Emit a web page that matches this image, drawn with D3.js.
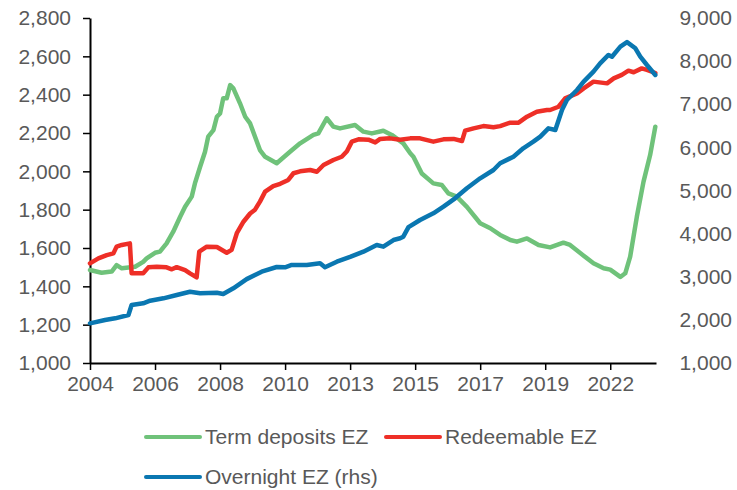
<!DOCTYPE html>
<html>
<head>
<meta charset="utf-8">
<script src="https://cdn.jsdelivr.net/npm/d3@7"></script>
<style>
body { margin: 0; background: #fff; }
text { font-family: "Liberation Sans", Arial, sans-serif; fill: #595959; }
</style>
</head>
<body>
<div id="svgWrapper"></div>
<script>
"use strict"
// data: [decimal year, value]
var termDeposits = [
    [2004.00,1485],[2004.40,1471],[2004.75,1477],[2004.92,1511],[2005.10,1494],[2005.56,1502],
    [2005.84,1528],[2005.96,1546],[2006.25,1575],[2006.42,1581],[2006.65,1624],[2006.88,1685],
    [2007.12,1763],[2007.29,1815],[2007.52,1868],[2007.63,1937],[2007.81,2024],[2007.98,2102],
    [2008.09,2181],[2008.27,2215],[2008.39,2285],[2008.50,2302],[2008.61,2381],[2008.73,2381],
    [2008.85,2450],[2008.96,2433],[2009.19,2355],[2009.37,2285],[2009.54,2250],[2009.88,2111],
    [2010.06,2076],[2010.46,2042],[2010.92,2102],[2011.27,2146],[2011.73,2190],[2011.90,2198],
    [2012.19,2277],[2012.42,2233],[2012.65,2224],[2013.17,2242],[2013.46,2207],[2013.75,2198],
    [2014.15,2212],[2014.44,2190],[2014.84,2146],[2015.08,2094],[2015.19,2076],[2015.48,1989],
    [2015.88,1937],[2016.17,1929],[2016.40,1885],[2016.69,1868],[2017.04,1815],[2017.50,1729],
    [2017.85,1703],[2018.19,1668],[2018.54,1642],[2018.77,1633],[2019.12,1650],[2019.52,1616],
    [2019.92,1603],[2020.38,1628],[2020.61,1616],[2021.08,1560],[2021.42,1520],[2021.77,1494],
    [2022.00,1487],[2022.35,1449],[2022.52,1468],[2022.69,1555],[2022.92,1763],[2023.15,1945],
    [2023.38,2085],[2023.56,2233]
];
var redeemable = [
    [2004.00,1520],[2004.29,1546],[2004.58,1563],[2004.81,1572],[2004.92,1607],[2005.10,1616],
    [2005.38,1624],[2005.44,1468],[2005.84,1468],[2006.02,1499],[2006.31,1502],[2006.65,1499],
    [2006.83,1489],[2007.00,1500],[2007.29,1485],[2007.46,1468],[2007.69,1447],[2007.78,1581],
    [2008.04,1607],[2008.39,1605],[2008.73,1575],[2008.90,1590],[2009.08,1677],[2009.31,1737],
    [2009.54,1780],[2009.71,1800],[2009.88,1842],[2010.06,1894],[2010.34,1923],[2010.58,1935],
    [2010.86,1955],[2011.04,1990],[2011.27,2000],[2011.62,2007],[2011.85,1998],[2012.08,2033],
    [2012.42,2059],[2012.71,2076],[2012.89,2105],[2013.06,2155],[2013.29,2167],[2013.63,2165],
    [2013.87,2151],[2014.04,2169],[2014.38,2172],[2014.73,2165],[2015.08,2172],[2015.42,2172],
    [2015.88,2155],[2016.23,2167],[2016.58,2169],[2016.87,2158],[2016.98,2212],[2017.27,2224],
    [2017.61,2236],[2017.96,2230],[2018.19,2236],[2018.54,2254],[2018.83,2254],[2019.12,2285],
    [2019.46,2311],[2019.81,2320],[2019.92,2320],[2020.21,2337],[2020.44,2381],[2020.85,2407],
    [2021.08,2433],[2021.42,2468],[2021.89,2459],[2022.12,2485],[2022.40,2503],[2022.63,2525],
    [2022.81,2517],[2023.09,2537],[2023.27,2529],[2023.56,2513]
];
var overnight = [
    [2004.00,1920],[2004.52,1997],[2004.87,2036],[2005.33,2113],[2005.44,2345],[2005.84,2384],
    [2006.08,2445],[2006.54,2500],[2007.00,2577],[2007.46,2653],[2007.81,2616],[2008.39,2630],
    [2008.61,2600],[2008.96,2732],[2009.42,2945],[2009.94,3117],[2010.46,3226],[2010.75,3219],
    [2010.98,3273],[2011.50,3273],[2011.96,3312],[2012.13,3219],[2012.54,3349],[2013.00,3460],
    [2013.46,3581],[2013.92,3736],[2014.15,3697],[2014.50,3852],[2014.73,3892],[2014.84,3929],
    [2015.02,4150],[2015.42,4316],[2015.88,4471],[2016.23,4625],[2016.63,4819],[2017.04,5051],
    [2017.50,5283],[2017.96,5476],[2018.19,5631],[2018.65,5784],[2018.99,5979],[2019.34,6132],
    [2019.58,6248],[2019.86,6442],[2020.10,6403],[2020.33,6867],[2020.50,7099],[2020.85,7331],
    [2021.08,7523],[2021.42,7755],[2021.65,7950],[2021.94,8143],[2022.06,8103],[2022.35,8335],
    [2022.58,8440],[2022.87,8298],[2023.04,8103],[2023.27,7910],[2023.56,7679]
];
var leftTicks = [1000, 1200, 1400, 1600, 1800, 2000, 2200, 2400, 2600, 2800];
var rightTicks = [1000, 2000, 3000, 4000, 5000, 6000, 7000, 8000, 9000];
// category axis: a tick every 27 months from Jan 2004
var xTicks = [2004, 2006.25, 2008.5, 2010.75, 2013, 2015.25, 2017.5, 2019.75, 2022];
var xEnd = 2004 + 235 / 12;

var seriesList = [
    {name: "Term deposits EZ", data: termDeposits, color: "#6fc27a", axis: "left"},
    {name: "Redeemable EZ", data: redeemable, color: "#ee2f27", axis: "left"},
    {name: "Overnight EZ (rhs)", data: overnight, color: "#0a77b1", axis: "right"}
];

function drawChart() {
    var fullWidth = 737;
    var fullHeight = 490;
    var left = 90, right = 656, top = 18, bottom = 363;

    var svg = d3.select("#svgWrapper").append("svg")
        .attr("width", fullWidth).attr("height", fullHeight);

    var xScale = d3.scaleLinear().domain([2004, xEnd]).range([left, right]);
    var yLeft = d3.scaleLinear().domain([1000, 2800]).range([bottom, top]);
    var yRight = d3.scaleLinear().domain([1000, 9000]).range([bottom, top]);

    var fmt = d3.format(",");

    var yAxisL = d3.axisLeft(yLeft).tickValues(leftTicks).tickFormat(fmt).tickSizeInner(7).tickSizeOuter(0).tickPadding(12);
    var gL = svg.append("g").attr("transform", "translate(" + left + ",0)").call(yAxisL);

    var yAxisR = d3.axisRight(yRight).tickValues(rightTicks).tickFormat(fmt).tickSize(0).tickPadding(0);
    var gR = svg.append("g").attr("transform", "translate(" + (fullWidth - 5) + ",0)").call(yAxisR);
    gR.select(".domain").remove();
    gR.selectAll("text").attr("text-anchor", "end");

    var xAxis = d3.axisBottom(xScale).tickValues(xTicks)
        .tickFormat(function(d) { return Math.floor(d + 0.001); })
        .tickSizeInner(7).tickSizeOuter(0).tickPadding(6);
    var gX = svg.append("g").attr("transform", "translate(0," + bottom + ")").call(xAxis);

    [gL, gR, gX].forEach(function(g) {
        g.selectAll("text").style("font-size", "21px").attr("fill", "#595959")
            .style("font-family", '"Liberation Sans", Arial, sans-serif');
        g.selectAll("line").attr("stroke", "#000").attr("stroke-width", 1.5);
        g.select(".domain").attr("stroke", "#000").attr("stroke-width", 2);
    });

    var data = svg.append("g");
    seriesList.forEach(function(s) {
        var yScale = s.axis == "left" ? yLeft : yRight;
        var line = d3.line()
            .x(function(d) { return xScale(d[0]); })
            .y(function(d) { return yScale(d[1]); });
        data.append("path")
            .attr("fill", "none")
            .attr("stroke", s.color)
            .attr("stroke-width", 4.5)
            .attr("stroke-linejoin", "round")
            .attr("stroke-linecap", "round")
            .attr("d", line(s.data));
    });

    // legend
    var legendPos = [[146, 437], [386, 437], [146, 477]];
    var legend = svg.append("g");
    seriesList.forEach(function(s, i) {
        var p = legendPos[i];
        legend.append("line")
            .attr("x1", p[0]).attr("x2", p[0] + 54)
            .attr("y1", p[1]).attr("y2", p[1])
            .attr("stroke", s.color).attr("stroke-width", 4).attr("stroke-linecap", "round");
        legend.append("text")
            .attr("x", p[0] + 59).attr("y", p[1])
            .attr("dy", "0.35em")
            .style("font-size", "21px")
            .text(s.name);
    });
}

drawChart();
</script>
</body>
</html>
